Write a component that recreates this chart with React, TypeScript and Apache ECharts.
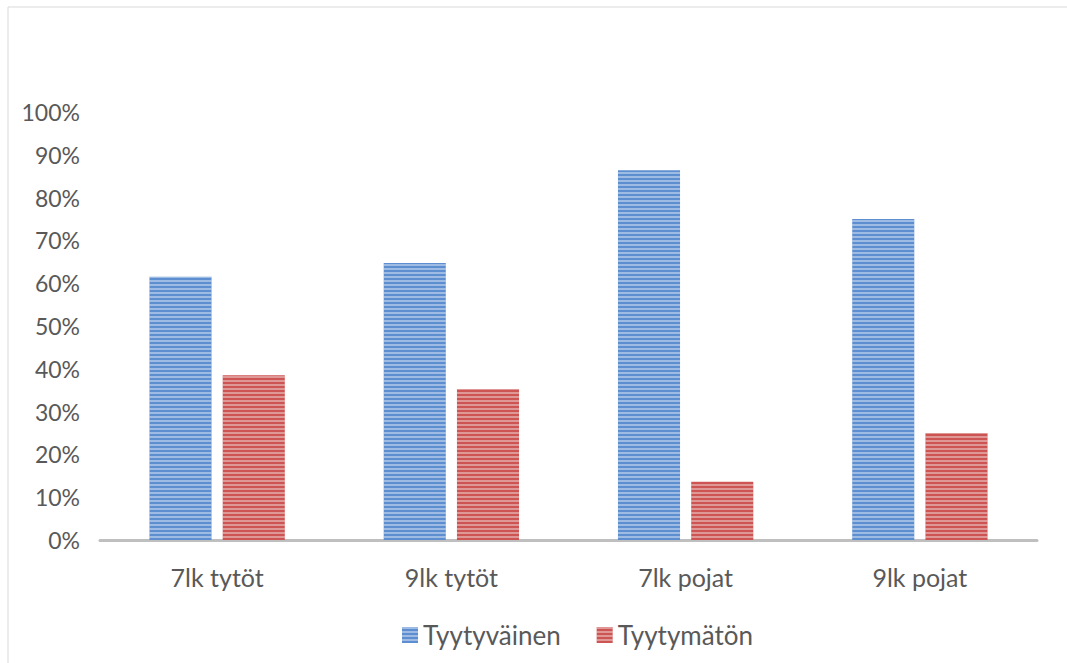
import React, { useEffect, useRef } from "react";
import * as echarts from "echarts";

const categories = ["7lk tytöt", "9lk tytöt", "7lk pojat", "9lk pojat"];
const tyytyvainen = [61.5, 64.7, 86.4, 75.0];
const tyytymaton = [38.5, 35.3, 13.6, 25.0];
const seriesNames = ["Tyytyväinen", "Tyytymätön"];

export default function App() {
  const ref = useRef<HTMLDivElement>(null);
  useEffect(() => {
    const chart = echarts.init(ref.current!, null, { renderer: "svg" });
    const stripe = (c: string) => ({
      symbol: "rect",
      symbolSize: 1,
      dashArrayX: [1, 0],
      dashArrayY: [2, 2],
      color: c,
      rotation: 0,
    });
    chart.setOption({
      animation: false,
      textStyle: { fontFamily: "Lato" },
      graphic: [
        {
          type: "rect",
          shape: { x: 8, y: 7, width: 1100, height: 700 },
          style: { fill: "none", stroke: "#d9d9d9", lineWidth: 1 },
          silent: true,
        },
      ],
      grid: { left: 100, right: 30, top: 112, bottom: 123 },
      legend: {
        bottom: 10,
        left: 397,
        itemWidth: 16,
        itemHeight: 16,
        itemGap: 36,
        icon: "rect",
        textStyle: { fontSize: 26, color: "#595959", fontFamily: "Lato" },
        data: seriesNames,
      },
      xAxis: {
        type: "category",
        data: categories,
        axisLine: { lineStyle: { color: "#bfbfbf", width: 3 } },
        axisTick: { show: false },
        axisLabel: { fontSize: 25, color: "#595959", margin: 24 },
      },
      yAxis: {
        type: "value",
        min: 0,
        max: 100,
        interval: 10,
        axisLine: { show: false },
        axisTick: { show: false },
        splitLine: { show: false },
        axisLabel: {
          formatter: "{value}%",
          fontSize: 23,
          color: "#595959",
          margin: 20,
        },
      },
      series: [
        {
          name: seriesNames[0],
          type: "bar",
          data: tyytyvainen,
          barWidth: "26.5%",
          barGap: "18%",
          itemStyle: { color: "#5d8ed0", decal: stripe("rgba(255,255,255,0.4)") },
        },
        {
          name: seriesNames[1],
          type: "bar",
          data: tyytymaton,
          barWidth: "26.5%",
          itemStyle: { color: "#cc5452", decal: stripe("rgba(255,255,255,0.4)") },
        },
      ],
    });
    return () => chart.dispose();
  }, []);
  return (
    <div
      ref={ref}
      style={{ position: "fixed", left: 0, top: 0, width: 1067, height: 663, background: "#fff" }}
    />
  );
}
